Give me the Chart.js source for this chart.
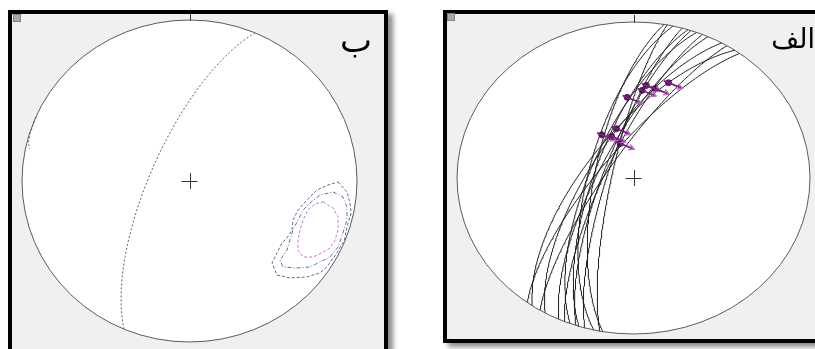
<!DOCTYPE html>
<html>
<head>
<meta charset="utf-8">
<script src="https://cdn.jsdelivr.net/npm/chart.js@4"></script>
<style>
  html, body { margin: 0; padding: 0; background: #fff; width: 815px; height: 349px; overflow: hidden; }
  .frame { position: absolute; box-sizing: border-box; border: 4px solid #000; background: #f0f0f0;
           box-shadow: 5px 4px 5px rgba(0,0,0,0.45); }
  #frameB { left: 8px; top: 10px; width: 380px; height: 362px; }
  #frameA { left: 443px; top: 10px; width: 400px; height: 333px; }
  .icon { position: absolute; box-sizing: border-box; width: 8px; height: 8px; background: #a8a8a8; border: 1px solid #808080; }
  canvas { position: absolute; }
  .lbl { position: absolute; font-family: "DejaVu Sans", sans-serif; color: #000; line-height: 1; white-space: nowrap; }
</style>
</head>
<body>
<div class="frame" id="frameB"></div>
<div class="frame" id="frameA"></div>
<div class="icon" style="left:13px;top:14px"></div>
<div class="icon" style="left:447px;top:13px"></div>
<canvas id="netB" width="371" height="335" style="left:12px;top:14px"></canvas>
<canvas id="netA" width="368" height="326" style="left:447px;top:14px"></canvas>
<div class="lbl" style="left:340px;top:23px;font-size:34px">ب</div>
<div class="lbl" style="right:0px;top:25px;font-size:27px;text-align:right">الف</div>
<script>
// ---- Panel "الف": fault planes (right-hand-rule strike / dip) ----
const planeStrikes = [190, 191, 193, 196, 198, 199, 201, 203, 205, 210, 212, 215, 217];
const planeDips    = [72, 80, 69, 78, 72, 76, 70, 77, 74, 70, 78, 68, 75];

// slickenline lineations (trend / plunge)
const lineTrends   = [327, 335, 343, 341, 356, 5, 7, 12, 18];
const linePlunges  = [63, 66, 63, 71, 47, 43, 40, 41, 36];

// ---- Panel "ب": mean girdle plane and density contours (net x / y) ----
const girdleStrike = 203;
const girdleDip    = 71;

const contourOuterX = [0.887, 0.940, 0.958, 0.965, 0.940, 0.925, 0.880, 0.820, 0.779, 0.701, 0.600, 0.522, 0.493, 0.522, 0.552, 0.582, 0.612, 0.618, 0.648, 0.701, 0.761, 0.827];
const contourOuterY = [-0.006, -0.068, -0.137, -0.199, -0.286, -0.366, -0.447, -0.534, -0.571, -0.596, -0.602, -0.584, -0.509, -0.447, -0.385, -0.354, -0.304, -0.242, -0.180, -0.118, -0.056, -0.025];

const contourMidX = [0.857, 0.916, 0.940, 0.940, 0.916, 0.887, 0.839, 0.779, 0.719, 0.642, 0.558, 0.540, 0.582, 0.600, 0.618, 0.648, 0.678, 0.719, 0.779];
const contourMidY = [-0.068, -0.099, -0.161, -0.242, -0.323, -0.410, -0.472, -0.503, -0.534, -0.540, -0.534, -0.491, -0.429, -0.366, -0.304, -0.242, -0.180, -0.137, -0.087];

const contourInnerX = [0.797, 0.857, 0.887, 0.887, 0.869, 0.839, 0.791, 0.737, 0.678, 0.648, 0.648, 0.660, 0.678, 0.707, 0.749];
const contourInnerY = [-0.130, -0.168, -0.224, -0.304, -0.366, -0.416, -0.447, -0.472, -0.472, -0.429, -0.366, -0.304, -0.242, -0.180, -0.143];

const contourEdgeX = [-0.915, -0.935, -0.950, -0.962, -0.955];
const contourEdgeY = [0.395, 0.345, 0.295, 0.240, 0.200];

// ---- equal-area (Schmidt) lower-hemisphere projection ----
const D2R = Math.PI / 180;
function projectLine(trend, plunge) {
  const r = Math.SQRT2 * Math.sin((90 - plunge) * D2R / 2);
  return { x: r * Math.sin(trend * D2R), y: r * Math.cos(trend * D2R) };
}
function greatCircle(strike, dip) {
  const s = strike * D2R, dd = (strike + 90) * D2R, d = dip * D2R;
  const pts = [];
  for (let t = 0; t <= 180; t += 1) {
    const th = t * D2R;
    const e = Math.cos(th) * Math.sin(s) + Math.sin(th) * Math.sin(dd) * Math.cos(d);
    const n = Math.cos(th) * Math.cos(s) + Math.sin(th) * Math.cos(dd) * Math.cos(d);
    const z = Math.sin(th) * Math.sin(d);
    const plunge = Math.asin(Math.min(1, z)) / D2R;
    const trend = Math.atan2(e, n) / D2R;
    pts.push(projectLine(trend, plunge));
  }
  return pts;
}
function closedLoop(xs, ys) {
  const pts = xs.map((x, i) => ({ x, y: ys[i] }));
  pts.push({ x: xs[0], y: ys[0] });
  return pts;
}

// primitive circle, north tick and centre cross
const stereoFrame = {
  id: 'stereoFrame',
  beforeDatasetsDraw(chart) {
    const { ctx, chartArea: a } = chart;
    const cx = (a.left + a.right) / 2, cy = (a.top + a.bottom) / 2;
    ctx.save();
    ctx.fillStyle = '#ffffff';
    ctx.beginPath();
    ctx.ellipse(cx, cy, (a.right - a.left) / 2, (a.bottom - a.top) / 2, 0, 0, 2 * Math.PI);
    ctx.fill();
    ctx.restore();
  },
  afterDatasetsDraw(chart) {
    const { ctx, chartArea: a } = chart;
    const cx = chart.scales.x.getPixelForValue(0), cy = chart.scales.y.getPixelForValue(0);
    ctx.save();
    ctx.strokeStyle = '#5a5a5a';
    ctx.lineWidth = 1;
    ctx.beginPath();
    ctx.ellipse((a.left + a.right) / 2, (a.top + a.bottom) / 2, (a.right - a.left) / 2, (a.bottom - a.top) / 2, 0, 0, 2 * Math.PI);
    ctx.stroke();
    ctx.strokeStyle = '#333';
    ctx.beginPath();
    ctx.moveTo(Math.round(cx) + 0.5, a.top - 7);
    ctx.lineTo(Math.round(cx) + 0.5, a.top + 1);
    ctx.moveTo(cx - 8, Math.round(cy) + 0.5);
    ctx.lineTo(cx + 8, Math.round(cy) + 0.5);
    ctx.moveTo(Math.round(cx) + 0.5, cy - 8);
    ctx.lineTo(Math.round(cx) + 0.5, cy + 8);
    ctx.stroke();
    ctx.restore();
  }
};

// slip arrows on the lineation points
const slipArrows = {
  id: 'slipArrows',
  afterDatasetsDraw(chart) {
    const idx = chart.data.datasets.findIndex(d => d.label === 'lineations');
    if (idx < 0) return;
    const { ctx } = chart;
    const ang = 22 * D2R, len = 15;
    ctx.save();
    chart.getDatasetMeta(idx).data.forEach(p => {
      const x0 = p.x - 5 * Math.cos(ang), y0 = p.y - 5 * Math.sin(ang);
      const x1 = p.x + len * Math.cos(ang), y1 = p.y + len * Math.sin(ang);
      ctx.strokeStyle = '#7b1f7e';
      ctx.lineWidth = 1.8;
      ctx.beginPath(); ctx.moveTo(x0, y0); ctx.lineTo(x1, y1); ctx.stroke();
      ctx.strokeStyle = '#b56fc0';
      ctx.lineWidth = 1.4;
      ctx.beginPath();
      ctx.moveTo(x1 - 6 * Math.cos(ang - 0.5), y1 - 6 * Math.sin(ang - 0.5));
      ctx.lineTo(x1, y1);
      ctx.lineTo(x1 - 6 * Math.cos(ang + 0.5), y1 - 6 * Math.sin(ang + 0.5));
      ctx.stroke();
    });
    ctx.restore();
  }
};

function netOptions(pad) {
  return {
    responsive: false,
    animation: false,
    layout: { padding: pad },
    plugins: { legend: { display: false }, tooltip: { enabled: false } },
    scales: {
      x: { type: 'linear', min: -1, max: 1, display: false },
      y: { type: 'linear', min: -1, max: 1, display: false }
    },
    elements: { line: { tension: 0 } }
  };
}

// Panel "الف"
const planeSets = planeStrikes.map((s, i) => ({
  label: 'plane ' + (i + 1),
  data: greatCircle(s, planeDips[i]),
  showLine: true, pointRadius: 0, borderColor: '#1c1c1c', borderWidth: 1, fill: false
}));
new Chart(document.getElementById('netA'), {
  type: 'scatter',
  data: {
    datasets: planeSets.concat([{
      label: 'lineations',
      data: lineTrends.map((t, i) => projectLine(t, linePlunges[i])),
      pointRadius: 3, pointBackgroundColor: '#6e1470', pointBorderColor: '#6e1470', showLine: false
    }])
  },
  options: netOptions({ left: 10, right: 4, top: 8, bottom: 6 }),
  plugins: [stereoFrame, slipArrows]
});

// Panel "ب"
new Chart(document.getElementById('netB'), {
  type: 'scatter',
  data: {
    datasets: [
      { label: 'girdle', data: greatCircle(girdleStrike, girdleDip), showLine: true, pointRadius: 0,
        borderColor: '#55597a', borderWidth: 1, borderDash: [2, 2] },
      { label: 'contour 1', data: closedLoop(contourOuterX, contourOuterY), showLine: true, pointRadius: 0,
        borderColor: '#666a8c', borderWidth: 1, borderDash: [3, 2] },
      { label: 'contour 2', data: closedLoop(contourMidX, contourMidY), showLine: true, pointRadius: 0,
        borderColor: '#6c7096', borderWidth: 1, borderDash: [4, 2, 1, 2] },
      { label: 'contour 3', data: closedLoop(contourInnerX, contourInnerY), showLine: true, pointRadius: 0,
        borderColor: '#c77ac8', borderWidth: 1, borderDash: [3, 2] },
      { label: 'contour edge', data: contourEdgeX.map((x, i) => ({ x, y: contourEdgeY[i] })), showLine: true, pointRadius: 0,
        borderColor: '#6c7096', borderWidth: 1, borderDash: [2, 2] }
    ]
  },
  options: netOptions({ left: 10, right: 26, top: 6, bottom: 7 }),
  plugins: [stereoFrame]
});
</script>
</body>
</html>
